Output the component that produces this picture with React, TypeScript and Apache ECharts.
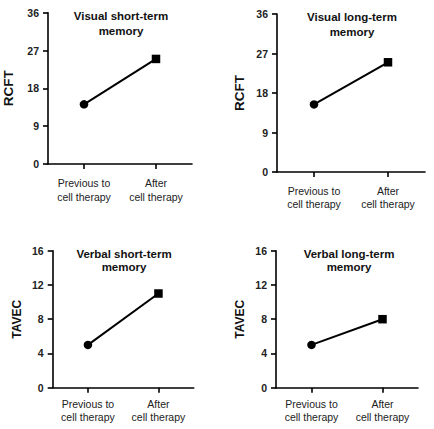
import React, { useEffect, useRef } from "react";
import * as echarts from "echarts";

const categories = ["Previous to\ncell therapy", "After\ncell therapy"];
const titles = [
  "Visual short-term\nmemory",
  "Visual long-term\nmemory",
  "Verbal short-term\nmemory",
  "Verbal long-term\nmemory",
];
const yNames = ["RCFT", "RCFT", "TAVEC", "TAVEC"];
const visualShort = [14.2, 25];
const visualLong = [15.4, 25];
const verbalShort = [5, 11];
const verbalLong = [5, 8];
const seriesValues = [visualShort, visualLong, verbalShort, verbalLong];
const yMax = [36, 36, 16, 16];
const yInterval = [9, 9, 4, 4];
const markerShapes = ["circle", "rect"];

const FONT = "'Liberation Sans', Arial, Helvetica, sans-serif";

const grids = [
  { left: 48, top: 12.7, width: 144, height: 151.3 },
  { left: 277, top: 14, width: 148, height: 158 },
  { left: 52.7, top: 250.7, width: 141, height: 137 },
  { left: 276, top: 250.7, width: 142, height: 137 },
];
const titlePos = [
  { left: 121, top: 8.5, lh: 15 },
  { left: 352, top: 9.5, lh: 15 },
  { left: 124, top: 247.5, lh: 13 },
  { left: 349, top: 247.5, lh: 13 },
];
const nameGaps = [33, 31, 30, 30];
const nameSizes = [13.5, 13.5, 12, 12];
const labelMargins = [12, 12, 10.5, 10.5];
const labelLH = [14, 13.3, 12.4, 12.4];

export default function App() {
  const ref = useRef<HTMLDivElement>(null);
  useEffect(() => {
    if (!ref.current) return;
    const chart = echarts.init(ref.current, undefined, { renderer: "svg" });
    const axisLine = { show: true, lineStyle: { color: "#000", width: 1.6 } };
    const axisTick = { show: true, length: 5, lineStyle: { color: "#000", width: 1.6 } };
    chart.setOption({
      animation: false,
      backgroundColor: "#fff",
      title: titles.map((t, i) => ({
        text: t,
        left: titlePos[i].left,
        top: titlePos[i].top,
        textAlign: "center",
        padding: 0,
        textStyle: {
          fontFamily: FONT,
          fontSize: 11.5,
          fontWeight: "bold",
          color: "#111",
          lineHeight: titlePos[i].lh,
        },
      })),
      grid: grids.map((g) => ({ ...g, containLabel: false })),
      xAxis: grids.map((_, i) => ({
        type: "category",
        gridIndex: i,
        data: categories,
        boundaryGap: true,
        axisLine,
        axisTick: { ...axisTick, alignWithLabel: true },
        axisLabel: {
          interval: 0,
          margin: labelMargins[i],
          fontFamily: FONT,
          fontSize: 10.5,
          color: "#222",
          lineHeight: labelLH[i],
        },
        splitLine: { show: false },
      })),
      yAxis: grids.map((_, i) => ({
        type: "value",
        gridIndex: i,
        min: 0,
        max: yMax[i],
        interval: yInterval[i],
        name: yNames[i],
        nameLocation: "middle",
        nameGap: nameGaps[i],
        nameTextStyle: {
          fontFamily: FONT,
          fontSize: nameSizes[i],
          fontWeight: "bold",
          color: "#111",
        },
        axisLine,
        axisTick,
        axisLabel: {
          margin: 9,
          fontFamily: FONT,
          fontSize: 10.5,
          fontWeight: "bold",
          color: "#222",
        },
        splitLine: { show: false },
      })),
      series: seriesValues.map((vals, i) => ({
        type: "line",
        xAxisIndex: i,
        yAxisIndex: i,
        data: vals.map((v, j) => ({ value: v, symbol: markerShapes[j] })),
        symbolSize: 8.5,
        showAllSymbol: true,
        lineStyle: { color: "#000", width: 2 },
        itemStyle: { color: "#000" },
        emphasis: { disabled: true },
      })),
    });
    return () => chart.dispose();
  }, []);
  return (
    <div
      ref={ref}
      style={{ position: "absolute", left: 0, top: 0, width: 434, height: 429 }}
    />
  );
}
